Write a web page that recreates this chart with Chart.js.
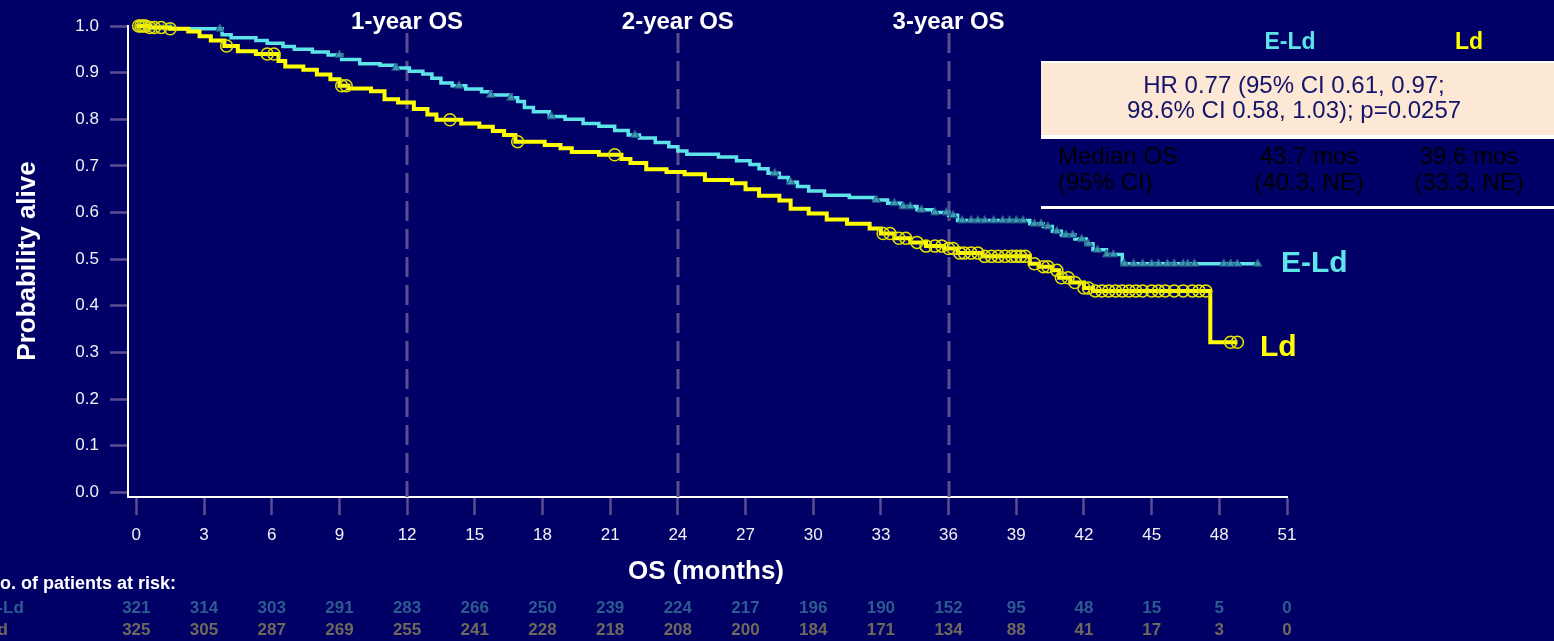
<!DOCTYPE html>
<html>
<head>
<meta charset="utf-8">
<script src="https://cdn.jsdelivr.net/npm/chart.js@4.4.0/dist/chart.umd.min.js"></script>
<style>
  html, body { margin: 0; padding: 0; background: #000066; }
  #wrap { width: 1554px; height: 641px; position: relative; }
</style>
</head>
<body>
<div id="wrap"><canvas id="km" width="1554" height="641"></canvas></div>
<script>
// KM overall survival, E-Ld vs Ld

const elTimes = [0, 0.5, 1.6, 3.8, 4.2, 5.3, 5.8, 6.5, 7.0, 7.8, 8.5, 9.1, 9.9, 10.8, 11.5, 12.1, 12.7, 13.1, 13.5, 14.0,
  14.6, 15.3, 15.7, 16.6, 16.9, 17.2, 17.6, 18.3, 19.0, 19.8, 20.5, 21.2, 21.8, 22.3, 23.0, 23.6, 24.0, 24.4, 25.8, 26.6,
  27.2, 27.6, 28.0, 28.5, 28.9, 29.3, 29.8, 30.5, 31.6, 32.7, 33.3, 33.9, 34.6, 35.3, 36.0, 36.4, 39.6, 40.2, 40.6, 41.0,
  41.6, 42.1, 42.4, 43.0, 43.7, 49.8];
const elSurv = [1.0, 0.997, 0.994, 0.981, 0.975, 0.969, 0.963, 0.956, 0.950, 0.944, 0.938, 0.928, 0.919, 0.916, 0.910, 0.903, 0.897, 0.888, 0.878, 0.872,
  0.865, 0.859, 0.852, 0.846, 0.838, 0.825, 0.816, 0.806, 0.800, 0.791, 0.785, 0.776, 0.766, 0.760, 0.750, 0.741, 0.732, 0.725, 0.719, 0.711,
  0.703, 0.694, 0.684, 0.675, 0.665, 0.656, 0.646, 0.637, 0.632, 0.627, 0.620, 0.613, 0.606, 0.600, 0.594, 0.583, 0.576, 0.570, 0.560, 0.552,
  0.543, 0.533, 0.520, 0.510, 0.490, 0.490];
const elCensor = [0.1, 0.2, 0.3, 0.4, 0.5, 0.7, 0.9, 1.2, 1.5, 3.7, 9.0, 11.5, 14.3, 15.7, 16.6, 18.4, 22.1, 28.3, 29.0, 32.8,
  33.6, 34.0, 34.3, 34.8, 35.4, 35.9, 36.2, 36.6, 37.0, 37.3, 37.6, 38.0, 38.4, 38.7, 39.0, 39.3, 39.8, 40.1, 40.4, 40.8,
  41.2, 41.5, 41.9, 42.2, 42.6, 43.0, 43.3, 43.8, 44.2, 44.6, 45.0, 45.3, 45.7, 46.0, 46.4, 46.6, 46.9, 48.2, 48.5, 48.8, 49.7];

const ldTimes = [0, 0.6, 1.5, 2.3, 2.8, 3.3, 3.9, 4.5, 5.3, 6.3, 6.6, 7.4, 8.0, 8.6, 9.0, 9.4, 10.4, 11.0, 11.6, 12.3,
  12.9, 13.3, 14.4, 15.2, 15.8, 16.3, 16.8, 18.1, 18.8, 19.3, 20.5, 21.5, 21.9, 22.6, 23.5, 24.3, 25.2, 26.4, 27.0, 27.6,
  28.5, 29.0, 29.8, 30.6, 31.5, 32.5, 33.0, 33.6, 34.3, 35.0, 35.8, 36.4, 37.5, 39.6, 40.0, 40.6, 40.9, 41.4, 42.0, 42.4,
  47.6, 48.8];
const ldSurv = [1.0, 0.997, 0.994, 0.988, 0.978, 0.969, 0.957, 0.946, 0.940, 0.925, 0.913, 0.906, 0.896, 0.886, 0.872, 0.866, 0.860, 0.843, 0.836, 0.822,
  0.810, 0.799, 0.791, 0.784, 0.775, 0.766, 0.752, 0.745, 0.738, 0.730, 0.724, 0.715, 0.706, 0.693, 0.687, 0.682, 0.670, 0.663, 0.650, 0.636,
  0.626, 0.608, 0.598, 0.585, 0.576, 0.566, 0.555, 0.545, 0.536, 0.528, 0.523, 0.513, 0.506, 0.490, 0.484, 0.476, 0.460, 0.450, 0.438, 0.432,
  0.322, 0.322];
const ldCensor = [0.1, 0.2, 0.3, 0.4, 0.6, 0.8, 1.1, 1.5, 4.0, 5.8, 6.1, 9.1, 9.3, 13.9, 16.9, 21.2, 33.1, 33.4, 33.8, 34.1,
  34.6, 35.0, 35.4, 35.7, 36.0, 36.2, 36.5, 36.7, 37.0, 37.3, 37.6, 37.9, 38.2, 38.5, 38.8, 39.0, 39.2, 39.4, 39.8, 40.2,
  40.4, 40.8, 41.0, 41.3, 41.6, 42.0, 42.2, 42.5, 42.8, 43.1, 43.4, 43.7, 44.0, 44.3, 44.6, 45.0, 45.3, 45.6, 46.0, 46.4,
  46.8, 47.1, 47.4, 48.5, 48.8];

const xTicks = [0, 3, 6, 9, 12, 15, 18, 21, 24, 27, 30, 33, 36, 39, 42, 45, 48, 51];
const yTicks = [0, 0.1, 0.2, 0.3, 0.4, 0.5, 0.6, 0.7, 0.8, 0.9, 1.0];
const landmarks = [12, 24, 36];
const landmarkLabels = ['1-year OS', '2-year OS', '3-year OS'];

const riskTimes = [0, 3, 6, 9, 12, 15, 18, 21, 24, 27, 30, 33, 36, 39, 42, 45, 48, 51];
const elAtRisk = [321, 314, 303, 291, 283, 266, 250, 239, 224, 217, 196, 190, 152, 95, 48, 15, 5, 0];
const ldAtRisk = [325, 305, 287, 269, 255, 241, 228, 218, 208, 200, 184, 171, 134, 88, 41, 17, 3, 0];

const FONT = '"Liberation Sans", Arial, sans-serif';
const CYAN = '#5ce4e8';
const YELLOW = '#ffff00';
const TICKCOL = '#5b4d8f';

function survAt(times, surv, t) {
  var s = surv[0];
  for (var i = 0; i < times.length; i++) {
    if (times[i] <= t) s = surv[i];
  }
  return s;
}

function curve(times, surv) {
  return times.map(function (t, i) { return { x: t, y: surv[i] }; });
}
function censorPts(ct, times, surv) {
  return ct.map(function (t) { return { x: t, y: survAt(times, surv, t) }; });
}

var overlay = {
  id: 'overlay',
  beforeDatasetsDraw: function (chart) {
    var ctx = chart.ctx, xs = chart.scales.x, area = chart.chartArea;
    ctx.save();
    ctx.strokeStyle = TICKCOL;
    ctx.lineWidth = 3;
    ctx.setLineDash([20, 8]);
    landmarks.forEach(function (v) {
      var px = Math.round(xs.getPixelForValue(v));
      ctx.beginPath();
      ctx.moveTo(px, 33);
      ctx.lineTo(px, area.bottom);
      ctx.stroke();
    });
    ctx.restore();
  },
  afterDraw: function (chart) {
    var ctx = chart.ctx, xs = chart.scales.x;
    ctx.save();
    ctx.textBaseline = 'middle';

    // landmark captions
    ctx.fillStyle = '#ffffff';
    ctx.textAlign = 'center';
    ctx.font = 'bold 24px ' + FONT;
    landmarks.forEach(function (v, i) {
      ctx.fillText(landmarkLabels[i], xs.getPixelForValue(v), 22);
    });

    // axis titles
    ctx.font = 'bold 26px ' + FONT;
    ctx.fillText('OS (months)', 706, 572);
    ctx.save();
    ctx.translate(28, 261);
    ctx.rotate(-Math.PI / 2);
    ctx.fillText('Probability alive', 0, 0);
    ctx.restore();

    // curve labels
    ctx.textAlign = 'left';
    ctx.font = 'bold 30px ' + FONT;
    ctx.fillStyle = CYAN;
    ctx.fillText('E-Ld', 1281, 264);
    ctx.fillStyle = YELLOW;
    ctx.fillText('Ld', 1260, 348);

    // right-hand summary panel
    ctx.textAlign = 'center';
    ctx.font = 'bold 23px ' + FONT;
    ctx.fillStyle = CYAN;
    ctx.fillText('E-Ld', 1290, 43);
    ctx.fillStyle = YELLOW;
    ctx.fillText('Ld', 1469, 43);

    ctx.fillStyle = '#ffffff';
    ctx.fillRect(1041, 61, 513, 78);
    ctx.fillStyle = '#fce8d5';
    ctx.fillRect(1041, 63, 513, 72);
    ctx.fillStyle = '#ffffff';
    ctx.fillRect(1041, 206, 513, 3);

    ctx.fillStyle = '#14146a';
    ctx.font = '24px ' + FONT;
    ctx.fillText('HR 0.77 (95% CI 0.61, 0.97;', 1294, 86);
    ctx.fillText('98.6% CI 0.58, 1.03); p=0.0257', 1294, 111);

    ctx.fillStyle = '#000000';
    ctx.textAlign = 'left';
    ctx.fillText('Median OS', 1058, 157);
    ctx.fillText('(95% CI)', 1058, 183);
    ctx.textAlign = 'center';
    ctx.fillText('43.7 mos', 1309, 157);
    ctx.fillText('(40.3, NE)', 1309, 183);
    ctx.fillText('39.6 mos', 1469, 157);
    ctx.fillText('(33.3, NE)', 1469, 183);

    // numbers at risk
    ctx.textAlign = 'left';
    ctx.fillStyle = '#ffffff';
    ctx.font = 'bold 18px ' + FONT;
    ctx.fillText('No. of patients at risk:', -13, 584);
    ctx.font = 'bold 17px ' + FONT;
    ctx.fillStyle = '#2e5b8f';
    ctx.fillText('E-Ld', -14, 608);
    ctx.fillStyle = '#6e695a';
    ctx.fillText('Ld', -13, 630);

    ctx.textAlign = 'center';
    riskTimes.forEach(function (t, i) {
      var px = xs.getPixelForValue(t);
      ctx.fillStyle = '#2e5b8f';
      ctx.fillText(String(elAtRisk[i]), px, 608);
      ctx.fillStyle = '#6e695a';
      ctx.fillText(String(ldAtRisk[i]), px, 630);
    });
    ctx.restore();
  }
};

Chart.defaults.font.family = FONT;
Chart.defaults.color = '#f2f2f2';

new Chart(document.getElementById('km'), {
  type: 'scatter',
  data: {
    datasets: [
      {
        label: 'E-Ld', data: curve(elTimes, elSurv), showLine: true, stepped: 'before',
        borderColor: CYAN, borderWidth: 3.5, pointRadius: 0, clip: false, order: 4
      },
      {
        label: 'E-Ld censored', data: censorPts(elCensor, elTimes, elSurv), showLine: false,
        pointStyle: 'triangle', pointRadius: 5, backgroundColor: 'rgba(55,140,170,0.85)',
        borderColor: '#1d4f7c', borderWidth: 1, clip: false, order: 3
      },
      {
        label: 'Ld', data: curve(ldTimes, ldSurv), showLine: true, stepped: 'before',
        borderColor: YELLOW, borderWidth: 4, pointRadius: 0, clip: false, order: 2
      },
      {
        label: 'Ld censored', data: censorPts(ldCensor, ldTimes, ldSurv), showLine: false,
        pointStyle: 'circle', pointRadius: 6, backgroundColor: 'rgba(0,0,0,0)',
        borderColor: '#e4e400', borderWidth: 1.5, clip: false, order: 1
      }
    ]
  },
  options: {
    responsive: false,
    devicePixelRatio: 1,
    animation: false,
    layout: { padding: { top: 26, right: 267, left: 0, bottom: 0 } },
    plugins: { legend: { display: false }, tooltip: { enabled: false } },
    scales: {
      x: {
        type: 'linear', min: -0.37, max: 51,
        border: { display: true, color: '#ffffff', width: 2 },
        grid: { drawOnChartArea: false, drawTicks: true, tickLength: 18, tickColor: TICKCOL, tickWidth: 2.5 },
        ticks: { color: '#f2f2f2', font: { size: 17 }, padding: 10, maxRotation: 0, autoSkip: false },
        afterBuildTicks: function (s) { s.ticks = xTicks.map(function (v) { return { value: v }; }); },
        afterFit: function (s) { s.height = 144; }
      },
      y: {
        type: 'linear', min: -0.01, max: 1.0,
        border: { display: true, color: '#ffffff', width: 2 },
        grid: { drawOnChartArea: false, drawTicks: true, tickLength: 18, tickColor: TICKCOL, tickWidth: 2.5 },
        ticks: { color: '#f2f2f2', font: { size: 17 }, padding: 11, autoSkip: false,
          callback: function (v) { return Number(v).toFixed(1); } },
        afterBuildTicks: function (s) { s.ticks = yTicks.map(function (v) { return { value: v }; }); },
        afterFit: function (s) { s.width = 128; }
      }
    }
  },
  plugins: [overlay]
});
</script>
</body>
</html>
